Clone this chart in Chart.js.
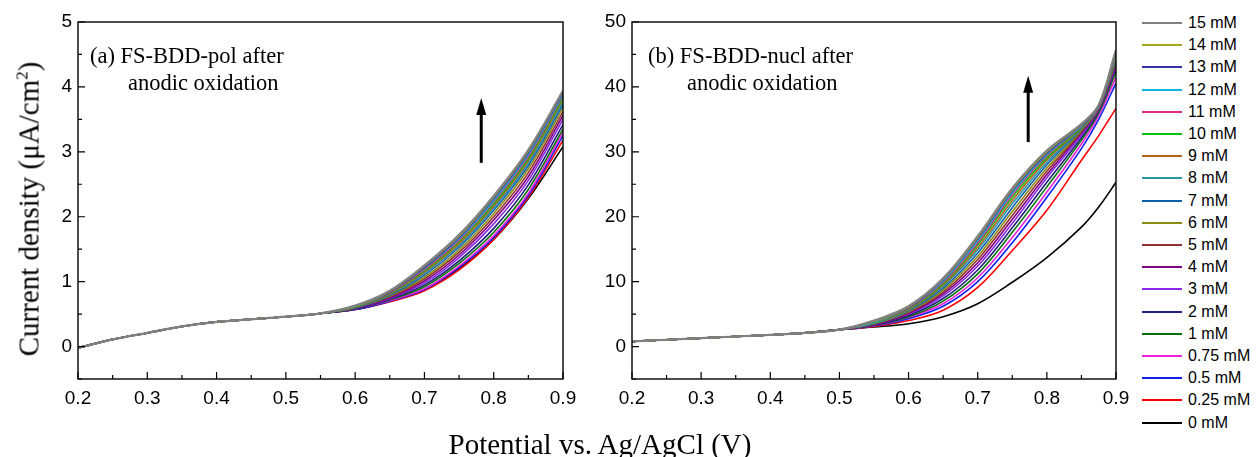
<!DOCTYPE html>
<html>
<head>
<meta charset="utf-8">
<script src="https://cdn.jsdelivr.net/npm/chart.js@4"></script>
<style>
  body { margin: 0; background: #fff; }
  #wrap { position: relative; width: 1257px; height: 457px; overflow: hidden; }
  canvas { position: absolute; top: 0; }
  #chartA { left: 0; }
  #chartB { left: 590px; }
  .ytitle {
    position: absolute; left: 29px; top: 209px;
    transform: translate(-50%, -50%) rotate(-90deg);
    font: 29px 'Liberation Serif', serif; white-space: nowrap; color: #000;
  }
  .ytitle sup { font-size: 17px; vertical-align: 11px; }
  .xtitle {
    position: absolute; left: 600px; top: 444px;
    transform: translate(-50%, -50%);
    font: 29px 'Liberation Serif', serif; white-space: nowrap; color: #000;
  }
  #legend { position: absolute; left: 1142px; top: 0; }
  .row { position: absolute; left: 0; height: 20px; width: 115px;
    font: 16px 'Liberation Sans', sans-serif; color: #000; white-space: nowrap; }
  .row span.ln { position: absolute; left: 0; top: 9px; width: 40px; height: 2px; }
  .row span.tx { position: absolute; left: 46px; top: 1px; }
</style>
</head>
<body>
<div id="wrap">
  <canvas id="chartA" width="590" height="430"></canvas>
  <canvas id="chartB" width="550" height="430"></canvas>
  <div class="ytitle">Current density (μA/cm<sup>2</sup>)</div>
  <div class="xtitle">Potential vs. Ag/AgCl (V)</div>
  <div id="legend"></div>
</div>
<script>
// concentrations, legend order (top to bottom)
const concLabels = ['15 mM','14 mM','13 mM','12 mM','11 mM','10 mM','9 mM','8 mM','7 mM','6 mM',
  '5 mM','4 mM','3 mM','2 mM','1 mM','0.75 mM','0.5 mM','0.25 mM','0 mM'];
const concColors = ['#808080','#a8a814','#3434a4','#10b4e0','#dc2a84','#10c010','#b06414','#2894a8','#1060b0','#8c8c10',
  '#943030','#800080','#8a28e8','#20207c','#087008','#f020d8','#1020ee','#ff0000','#000000'];

const xTicks = [0.2, 0.3, 0.4, 0.5, 0.6, 0.7, 0.8, 0.9];
const yTicksA = [0, 1, 2, 3, 4, 5];
const yTicksB = [0, 10, 20, 30, 40, 50];

// panel (a) FS-BDD-pol
const potentialA = [0.20,0.25,0.30,0.35,0.40,0.45,0.50,0.55,0.60,0.65,0.70,0.75,0.80,0.85,0.90];
const sharedA = [-0.02,0.11,0.21,0.31,0.38,0.42,0.46,0.51];          // 0.20 .. 0.55, all curves overlap
const tailA = [                                                     // 0.60 .. 0.90
  [0.63,0.86,1.25,1.72,2.32,3.03,3.94],  // 15
  [0.62,0.85,1.24,1.70,2.30,3.01,3.93],  // 14
  [0.62,0.84,1.22,1.68,2.28,2.99,3.91],  // 13
  [0.62,0.84,1.21,1.66,2.25,2.96,3.89],  // 12
  [0.62,0.83,1.19,1.64,2.23,2.93,3.87],  // 11
  [0.61,0.82,1.17,1.62,2.20,2.90,3.84],  // 10
  [0.61,0.81,1.15,1.59,2.17,2.87,3.81],  // 9
  [0.61,0.80,1.13,1.56,2.14,2.83,3.77],  // 8
  [0.60,0.79,1.10,1.53,2.10,2.79,3.73],  // 7
  [0.60,0.78,1.07,1.49,2.05,2.74,3.68],  // 6
  [0.60,0.77,1.04,1.45,2.00,2.68,3.62],  // 5
  [0.59,0.75,1.01,1.41,1.95,2.62,3.56],  // 4
  [0.59,0.74,0.98,1.37,1.89,2.56,3.50],  // 3
  [0.58,0.73,0.95,1.32,1.82,2.49,3.42],  // 2
  [0.58,0.72,0.92,1.28,1.76,2.42,3.35],  // 1
  [0.58,0.71,0.89,1.24,1.71,2.36,3.30],  // 0.75
  [0.57,0.70,0.88,1.22,1.68,2.33,3.25],  // 0.5
  [0.57,0.69,0.86,1.18,1.65,2.30,3.18],  // 0.25
  [0.57,0.70,0.88,1.20,1.65,2.28,3.08]   // 0
];

// panel (b) FS-BDD-nucl
const potentialB = [0.20,0.30,0.40,0.45,0.50,0.55,0.60,0.65,0.70,0.75,0.80,0.85,0.875,0.90];
const sharedB = [0.8,1.3,1.8,2.1,2.6];                              // 0.20 .. 0.50
const tailB = [                                                     // 0.55 .. 0.90
  [4.0,6.2,10.5,17.0,24.4,30.2,34.3,37.2,45.7],  // 15
  [3.9,6.1,10.4,16.8,24.2,30.0,34.2,37.2,45.6],  // 14
  [3.9,6.0,10.3,16.6,24.0,29.8,34.1,37.1,45.5],  // 13
  [3.8,6.0,10.1,16.3,23.7,29.6,34.0,37.1,45.3],  // 12
  [3.8,5.9,9.9,16.0,23.4,29.4,33.9,37.0,45.1],   // 11
  [3.7,5.8,9.7,15.7,23.0,29.1,33.8,37.0,44.9],   // 10
  [3.7,5.7,9.5,15.3,22.5,28.8,33.7,37.0,44.7],   // 9
  [3.6,5.6,9.3,14.9,22.0,28.4,33.6,36.9,44.5],   // 8
  [3.6,5.5,9.0,14.4,21.4,28.0,33.5,36.9,44.3],   // 7
  [3.5,5.4,8.7,13.9,20.8,27.5,33.3,36.8,44.1],   // 6
  [3.5,5.3,8.4,13.4,20.2,27.0,33.1,36.7,43.8],   // 5
  [3.4,5.1,8.1,12.9,19.6,26.5,32.9,36.6,43.5],   // 4
  [3.4,5.0,7.8,12.4,19.0,26.0,32.6,36.5,43.2],   // 3
  [3.3,4.8,7.4,11.8,18.3,25.3,32.2,36.3,42.8],   // 2
  [3.3,4.6,7.0,11.2,17.6,24.6,31.8,36.0,42.3],   // 1
  [3.2,4.5,6.6,10.6,16.8,23.8,31.2,35.6,41.5],   // 0.75
  [3.2,4.3,6.2,10.0,16.0,23.0,30.5,35.0,40.6],   // 0.5
  [3.1,4.0,5.6,9.1,14.8,21.0,28.7,32.5,36.7],    // 0.25
  [3.0,3.5,4.6,6.6,9.9,13.7,18.4,21.5,25.3]      // 0
];

const tickFont = { family: "'Liberation Sans', Arial, sans-serif", size: 19 };

function makeDatasets(xs, shared, tails) {
  return tails.map((tail, i) => ({
    label: concLabels[i],
    data: shared.concat(tail).map((v, j) => ({ x: xs[j], y: v })),
    borderColor: concColors[i],
    borderWidth: i === 0 ? 2.2 : 1.6,
    pointRadius: 0,
    tension: 0.35,
    fill: false
  }));
}

// frame, inward ticks, panel caption and arrow
function panelDecor(opt) {
  return {
    id: 'panelDecor',
    afterDatasetsDraw(chart) {
      const { ctx, chartArea: a, scales: { x, y } } = chart;
      ctx.save();
      ctx.strokeStyle = '#000';
      ctx.lineWidth = 1.4;
      ctx.strokeRect(a.left, a.top, a.right - a.left, a.bottom - a.top);
      ctx.lineWidth = 1.2;
      ctx.beginPath();
      xTicks.forEach((t, i) => {
        const px = x.getPixelForValue(t);
        ctx.moveTo(px, a.bottom); ctx.lineTo(px, a.bottom - 7);
        if (i < xTicks.length - 1) {
          const pm = x.getPixelForValue((t + xTicks[i + 1]) / 2);
          ctx.moveTo(pm, a.bottom); ctx.lineTo(pm, a.bottom - 4);
        }
      });
      const yt = opt.yTicks, half = (yt[1] - yt[0]) / 2;
      yt.forEach(t => {
        const py = y.getPixelForValue(t);
        ctx.moveTo(a.left, py); ctx.lineTo(a.left + 7, py);
        const pm = y.getPixelForValue(t - half);
        ctx.moveTo(a.left, pm); ctx.lineTo(a.left + 4, pm);
      });
      ctx.stroke();

      // caption
      ctx.fillStyle = '#000';
      ctx.font = "22.5px 'Liberation Serif', 'Times New Roman', serif";
      ctx.textBaseline = 'middle';
      ctx.fillText(opt.caption[0], a.left + opt.capX[0], a.top + 35);
      ctx.fillText(opt.caption[1], a.left + opt.capX[1], a.top + 62);

      // arrow
      const ax = x.getPixelForValue(opt.arrow[0]);
      const y0 = y.getPixelForValue(opt.arrow[1]);
      const y1 = y.getPixelForValue(opt.arrow[2]);
      ctx.lineWidth = 3;
      ctx.beginPath();
      ctx.moveTo(ax, y0); ctx.lineTo(ax, y1 + 12);
      ctx.stroke();
      ctx.beginPath();
      ctx.moveTo(ax, y1); ctx.lineTo(ax - 5, y1 + 17); ctx.lineTo(ax + 5, y1 + 17);
      ctx.closePath();
      ctx.fill();
      ctx.restore();
    }
  };
}

function makeChart(id, xs, shared, tails, yMin, yMax, yTicks, yWidth, padRight, decor) {
  return new Chart(document.getElementById(id).getContext('2d'), {
    type: 'line',
    data: { datasets: makeDatasets(xs, shared, tails) },
    options: {
      responsive: false,
      animation: false,
      layout: { padding: { top: 22, right: padRight, left: 0, bottom: 0 } },
      plugins: { legend: { display: false }, tooltip: { enabled: false } },
      scales: {
        x: {
          type: 'linear', min: 0.2, max: 0.9,
          grid: { display: false, drawTicks: false },
          border: { display: false },
          afterBuildTicks: s => { s.ticks = xTicks.map(v => ({ value: v })); },
          afterFit: s => { s.height = 51; },
          ticks: { font: tickFont, color: '#000', padding: 8, maxRotation: 0,
            callback: v => v.toFixed(1) }
        },
        y: {
          min: yMin, max: yMax,
          grid: { display: false, drawTicks: false },
          border: { display: false },
          afterBuildTicks: s => { s.ticks = yTicks.map(v => ({ value: v })); },
          afterFit: s => { s.width = yWidth; },
          ticks: { font: tickFont, color: '#000', padding: 6 }
        }
      }
    },
    plugins: [panelDecor(decor)]
  });
}

makeChart('chartA', potentialA, sharedA, tailA, -0.5, 5, yTicksA, 78, 27, {
  yTicks: yTicksA,
  caption: ['(a) FS-BDD-pol after', 'anodic oxidation'],
  capX: [12, 50],
  arrow: [0.782, 2.83, 3.83]
});

makeChart('chartB', potentialB, sharedB, tailB, -5, 50, yTicksB, 42, 24, {
  yTicks: yTicksB,
  caption: ['(b) FS-BDD-nucl after', 'anodic oxidation'],
  capX: [16, 55],
  arrow: [0.773, 31.5, 41.7]
});

// legend
const legend = document.getElementById('legend');
concLabels.forEach((lab, i) => {
  const row = document.createElement('div');
  row.className = 'row';
  row.style.top = (23 + i * 22.2 - 10) + 'px';
  const ln = document.createElement('span');
  ln.className = 'ln';
  ln.style.background = concColors[i];
  const tx = document.createElement('span');
  tx.className = 'tx';
  tx.textContent = lab;
  row.appendChild(ln);
  row.appendChild(tx);
  legend.appendChild(row);
});
</script>
</body>
</html>
